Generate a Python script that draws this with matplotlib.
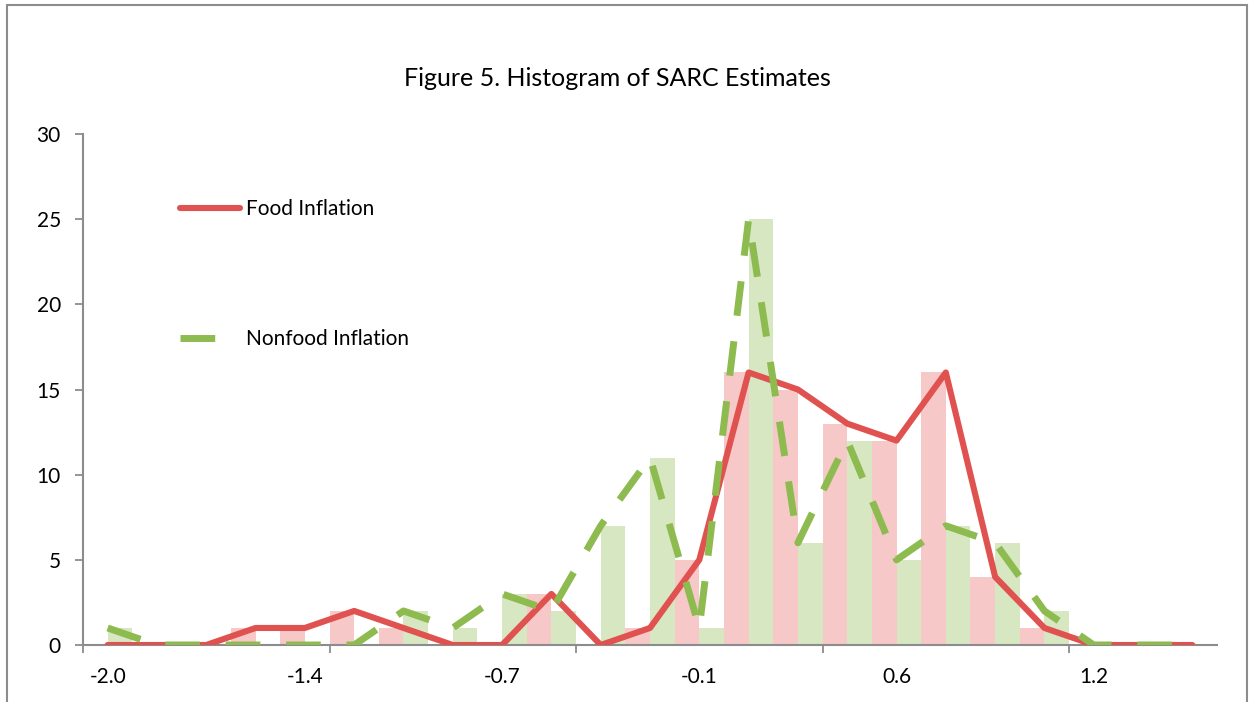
import matplotlib.pyplot as plt
from matplotlib.patches import Rectangle

# histogram counts per bin (bins of width 0.16 starting at -2.0)
bin_labels = ["-2.0", "-1.4", "-0.7", "-0.1", "0.6", "1.2"]
label_every = 4
tick_every = 5
food = [0, 0, 0, 1, 1, 2, 1, 0, 0, 3, 0, 1, 5, 16, 15, 13, 12, 16, 4, 1, 0, 0, 0]
nonfood = [1, 0, 0, 0, 0, 0, 2, 1, 3, 2, 7, 11, 1, 25, 6, 12, 5, 7, 6, 2, 0, 0, 0]

RED = "#E0524F"
GREEN = "#8DBB4F"
PINK_BAR = "#F6C8C8"
GREEN_BAR = "#D6E7C2"
AXIS_GRAY = "#8C8C8C"


def main():
    plt.rcParams["font.family"] = ["Lato", "DejaVu Sans"]
    fig = plt.figure(figsize=(12.53, 7.02), dpi=100)
    ax = fig.add_axes([83 / 1253, 1 - 645 / 702, 1134 / 1253, 511 / 702])

    n = len(food)
    x = list(range(n))
    ax.bar([i - 0.25 for i in x], food, width=0.5, color=PINK_BAR, zorder=1)
    ax.bar([i + 0.25 for i in x], nonfood, width=0.5, color=GREEN_BAR, zorder=1)

    ax.plot(x, food, color=RED, lw=4.4, solid_capstyle="round",
            solid_joinstyle="round", zorder=3, label="Food Inflation")
    ax.plot(x, nonfood, color=GREEN, lw=5, dashes=(5, 3.7),
            dash_capstyle="butt", zorder=4, label="Nonfood Inflation")

    ax.set_xlim(-0.5, n - 0.5)
    ax.set_ylim(0, 30)
    ax.set_yticks(range(0, 31, 5))

    # tick marks every 5 bins, labels every 4 bins
    ax.set_xticks([i - 0.5 for i in range(0, n, tick_every)])
    ax.set_xticklabels([])
    ax.set_xticks(list(range(0, n, label_every)), minor=True)
    ax.set_xticklabels(bin_labels, minor=True)
    ax.tick_params(axis="x", which="major", length=6, width=1.3,
                   color=AXIS_GRAY, direction="out")
    ax.tick_params(axis="x", which="minor", length=0, pad=16, labelsize=15)
    ax.tick_params(axis="y", length=6, width=1.3, color=AXIS_GRAY,
                   labelsize=15, pad=10)

    for side in ["top", "right"]:
        ax.spines[side].set_visible(False)
    for side in ["left", "bottom"]:
        ax.spines[side].set_color(AXIS_GRAY)
        ax.spines[side].set_linewidth(1.5)
        ax.spines[side].set_zorder(2)

    ax.legend(loc="upper left", bbox_to_anchor=(0.0855, 0.873), frameon=False,
              fontsize=15, handlelength=2.9, handletextpad=0.25,
              labelspacing=5.3, borderpad=0, borderaxespad=0)

    fig.text(617 / 1253, 1 - 78 / 702, "Figure 5. Histogram of SARC Estimates",
             ha="center", va="center", fontsize=18)

    # chart area border
    fig.patches.append(Rectangle((7 / 1253, -0.05), 1240 / 1253, 1.05 - 5 / 702,
                                 transform=fig.transFigure, fill=False,
                                 edgecolor=AXIS_GRAY, lw=1.5))

    fig.savefig("out.png", dpi=100)


if __name__ == "__main__":
    main()
